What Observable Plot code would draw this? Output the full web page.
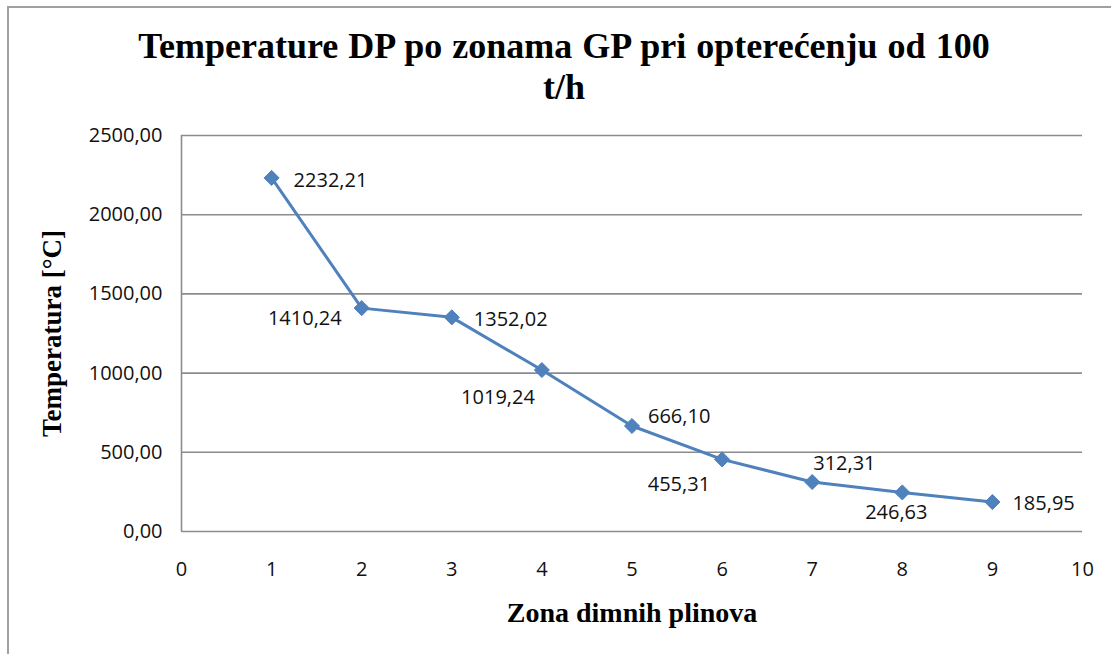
<!DOCTYPE html>
<html>
<head>
<meta charset="utf-8">
<script src="https://cdn.jsdelivr.net/npm/d3@7"></script>
<script src="https://cdn.jsdelivr.net/npm/@observablehq/plot@0.6"></script>
<style>
  html, body { margin: 0; padding: 0; background: #fff; width: 1111px; height: 654px; overflow: hidden; }
  body { position: relative; }
  #frame { position: absolute; left: 7px; top: 6px; width: 1120px; height: 700px;
           border-left: 2px solid #a0a0a0; border-top: 2px solid #a0a0a0; }
  #title { position: absolute; left: 8px; width: 1112px; top: 26px; text-align: center;
           font-family: "Liberation Serif", "Times New Roman", serif; font-weight: bold;
           font-size: 36px; line-height: 41px; color: #000; word-spacing: 1px; }
  #chart { position: absolute; left: 0; top: 110px; }
</style>
</head>
<body>
<div id="frame"></div>
<div id="title">Temperature DP po zonama GP pri opterećenju od 100<br>t/h</div>
<div id="chart"></div>
<script>
// ---- data ----
const zones = [1, 2, 3, 4, 5, 6, 7, 8, 9];
const temperatures = [2232.21, 1410.24, 1352.02, 1019.24, 666.10, 455.31, 312.31, 246.63, 185.95];
const xTicks = [0, 1, 2, 3, 4, 5, 6, 7, 8, 9, 10];
const yTicks = [0, 500, 1000, 1500, 2000, 2500];
const xTitle = "Zona dimnih plinova";
const yTitle = "Temperatura [°C]";

// ---- layout (label placement per point, Excel-like) ----
const labelPlacement = [
  {dx: 22, dy: 3, anchor: "start"},
  {dx: -20, dy: 10, anchor: "end"},
  {dx: 22, dy: 2, anchor: "start"},
  {dx: -7, dy: 28, anchor: "end"},
  {dx: 16, dy: -9, anchor: "start"},
  {dx: -12, dy: 25, anchor: "end"},
  {dx: 1, dy: -18, anchor: "start"},
  {dx: -6, dy: 20, anchor: "middle"},
  {dx: 20, dy: 2, anchor: "start"}
];

const data = zones.map((z, i) => ({zone: z, temp: temperatures[i]}));
const fmt = v => v.toFixed(2).replace(".", ",");
const blue = "#4F81BD";
const grid = "#8c8c8c";
const serif = "Liberation Serif, Times New Roman, serif";

const labelMarks = data.map((d, i) => Plot.text([d], {
  x: "zone", y: "temp", text: d => fmt(d.temp),
  dx: labelPlacement[i].dx, dy: labelPlacement[i].dy,
  textAnchor: labelPlacement[i].anchor, fill: "#111", fontSize: 20
}));

const chart = Plot.plot({
  width: 1111,
  height: 544,
  marginLeft: 181,
  marginRight: 29,
  marginTop: 25,
  marginBottom: 123,
  style: {fontFamily: "Open Sans, sans-serif", fontSize: "20px", color: "#111", background: "transparent"},
  x: {domain: [0, 10], ticks: xTicks, label: null},
  y: {domain: [0, 2500], ticks: yTicks, label: null},
  marks: [
    Plot.gridY(yTicks, {stroke: grid, strokeOpacity: 1, strokeWidth: 1.6}),
    Plot.ruleX([0], {stroke: grid, strokeWidth: 1.6}),
    Plot.axisY(yTicks, {tickSize: 0, tickPadding: 19, tickFormat: fmt, fontSize: 20, label: null}),
    Plot.axisX(xTicks, {tickSize: 0, tickPadding: 30, tickFormat: d => String(d), fontSize: 20, label: null}),
    Plot.line(data, {x: "zone", y: "temp", stroke: blue, strokeWidth: 3}),
    Plot.dot(data, {x: "zone", y: "temp", symbol: "diamond2", r: 6.8, fill: blue, stroke: blue, strokeWidth: 1}),
    ...labelMarks,
    Plot.text([yTitle], {frameAnchor: "left", dx: -129, rotate: -90, textAnchor: "middle", lineAnchor: "middle", fontFamily: serif, fontWeight: "bold", fontSize: 27, fill: "#000"}),
    Plot.text([xTitle], {frameAnchor: "bottom", dy: 82, textAnchor: "middle", lineAnchor: "middle", fontFamily: serif, fontWeight: "bold", fontSize: 28, fill: "#000"})
  ]
});
document.getElementById("chart").appendChild(chart);
</script>
</body>
</html>
